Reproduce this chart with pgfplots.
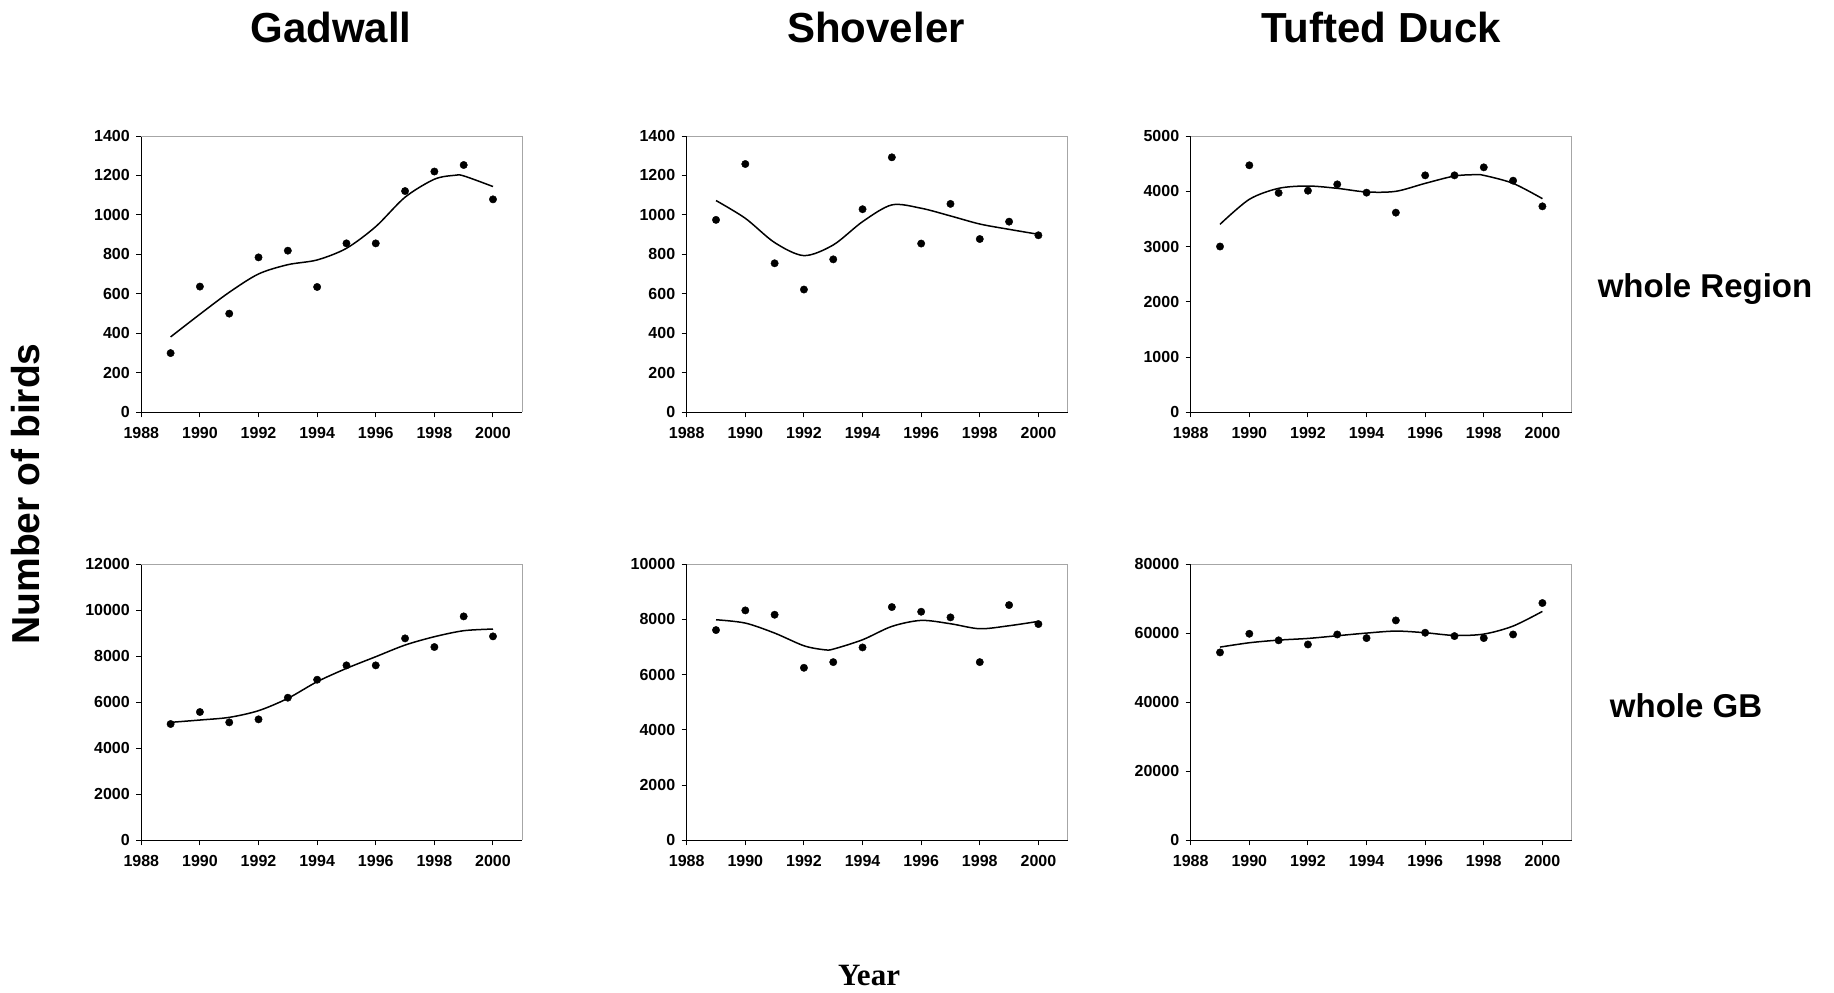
\documentclass[border=0pt]{standalone}
\usepackage{pgfplots}
\pgfplotsset{compat=1.18}
\usepackage{fontspec}
\setmainfont{Liberation Sans}
\newfontfamily\yearfont{Liberation Serif}

% common look of the six panels
\pgfplotsset{
  panel/.style={
    anchor=north west, scale only axis,
    width=381pt, height=276.3pt,
    xmin=1988, xmax=2001, ymin=0,
    xtick={1988,1990,...,2000},
    scaled ticks=false,
    /pgf/number format/assume math mode=true,
    /pgf/number format/1000 sep={},
    axis x line*=bottom, axis y line*=left,
    axis line style={-, black, line width=1pt},
    tick align=outside, major tick length=5pt,
    tick style={black, line width=1pt},
    ticklabel style={font=\fontsize{16}{16}\selectfont\bfseries},
    xticklabel style={yshift=-6pt},
    yticklabel style={xshift=-3pt},
    clip=false,
  },
  pts/.style={only marks, mark=*, mark size=3.7pt, black},
  fit/.style={smooth, black, line width=1.5pt, no marks},
}
\newcommand{\frameTR}{\draw[gray!70, line width=0.8pt] (rel axis cs:0,1) -- (rel axis cs:1,1) -- (rel axis cs:1,0);}

\begin{document}
\begin{tikzpicture}
\path[use as bounding box] (0,0) rectangle (1834pt,-993pt);

% ---------- Gadwall, whole Region ----------
\begin{axis}[panel, at={(141.3pt,-136pt)}, ymax=1400, ytick={0,200,...,1400}]
\addplot[pts] table {
1989 300
1990 637
1991 500
1992 785
1993 819
1994 635
1995 856
1996 856
1997 1121
1998 1220
1999 1253
2000 1079
};
\addplot[fit] table {
1989 382
1990 497
1991 608
1992 701
1993 748
1994 772
1995 831
1996 941
1997 1090
1998 1181
1998.7 1201
1999 1198
2000 1144
};
\frameTR
\end{axis}

% ---------- Shoveler, whole Region ----------
\begin{axis}[panel, at={(686.7pt,-136pt)}, ymax=1400, ytick={0,200,...,1400}]
\addplot[pts] table {
1989 975
1990 1258
1991 755
1992 622
1993 775
1994 1029
1995 1292
1996 855
1997 1056
1998 878
1999 966
2000 897
};
\addplot[fit] table {
1989 1073
1990 983
1991 860
1992 794
1993 848
1994 966
1995 1051
1996 1034
1997 995
1998 954
1999 927
2000 902
};
\frameTR
\end{axis}

% ---------- Tufted Duck, whole Region ----------
\begin{axis}[panel, at={(1190.7pt,-136pt)}, ymax=5000, ytick={0,1000,...,5000}]
\addplot[pts] table {
1989 3000
1990 4470
1991 3970
1992 4010
1993 4125
1994 3975
1995 3613
1996 4288
1997 4288
1998 4433
1999 4192
2000 3727
};
\addplot[fit] table {
1989 3402
1990 3854
1991 4053
1992 4095
1993 4053
1994 3987
1995 3999
1996 4143
1997 4276
1997.7 4300
1998 4288
1999 4143
2000 3866
};
\frameTR
\end{axis}

% ---------- Gadwall, whole GB ----------
\begin{axis}[panel, at={(141.3pt,-564pt)}, ymax=12000, ytick={0,2000,...,12000}]
\addplot[pts] table {
1989 5051
1990 5572
1991 5123
1992 5253
1993 6194
1994 6975
1995 7598
1996 7598
1997 8770
1998 8394
1999 9725
2000 8857
};
\addplot[fit] table {
1989 5123
1990 5224
1991 5340
1992 5630
1993 6165
1994 6889
1995 7467
1996 7974
1997 8480
1998 8842
1999 9103
2000 9175
};
\frameTR
\end{axis}

% ---------- Shoveler, whole GB ----------
\begin{axis}[panel, at={(686.7pt,-564pt)}, ymax=10000, ytick={0,2000,...,10000}]
\addplot[pts] table {
1989 7609
1990 8321
1991 8164
1992 6244
1993 6449
1994 6981
1995 8442
1996 8273
1997 8068
1998 6449
1999 8514
2000 7826
};
\addplot[fit] table {
1989 7983
1990 7862
1991 7500
1992 7041
1992.7 6896
1993 6920
1994 7258
1995 7742
1996 7959
1997 7838
1998 7657
1999 7766
2000 7923
};
\frameTR
\end{axis}

% ---------- Tufted Duck, whole GB ----------
\begin{axis}[panel, at={(1190.7pt,-564pt)}, ymax=80000, ytick={0,20000,...,80000}]
\addplot[pts] table {
1989 54400
1990 59800
1991 57900
1992 56700
1993 59600
1994 58550
1995 63670
1996 60100
1997 59130
1998 58550
1999 59600
2000 68700
};
\addplot[fit] table {
1989 55940
1990 57200
1991 57970
1992 58450
1993 59230
1994 60000
1995 60580
1996 60100
1997 59320
1998 59710
1999 62030
2000 66280
};
\frameTR
\end{axis}

% ---------- titles and labels ----------
\begin{scope}[every node/.style={inner sep=0pt}]
\node[anchor=base, font=\fontsize{42}{42}\selectfont\bfseries] at (331pt,-42pt) {Gadwall};
\node[anchor=base, font=\fontsize{42}{42}\selectfont\bfseries] at (876pt,-42pt) {Shoveler};
\node[anchor=base, font=\fontsize{42}{42}\selectfont\bfseries] at (1381pt,-42pt) {Tufted Duck};
\node[anchor=base, font=\fontsize{33}{33}\selectfont\bfseries] at (1705pt,-297pt) {whole Region};
\node[anchor=base, font=\fontsize{33}{33}\selectfont\bfseries] at (1686pt,-717pt) {whole GB};
\node[rotate=90, anchor=center, font=\fontsize{39}{39}\selectfont\bfseries] at (26pt,-494pt) {Number of birds};
\node[anchor=base, font=\yearfont\fontsize{31}{31}\selectfont\bfseries] at (869pt,-985pt) {Year};
\end{scope}
\end{tikzpicture}
\end{document}
